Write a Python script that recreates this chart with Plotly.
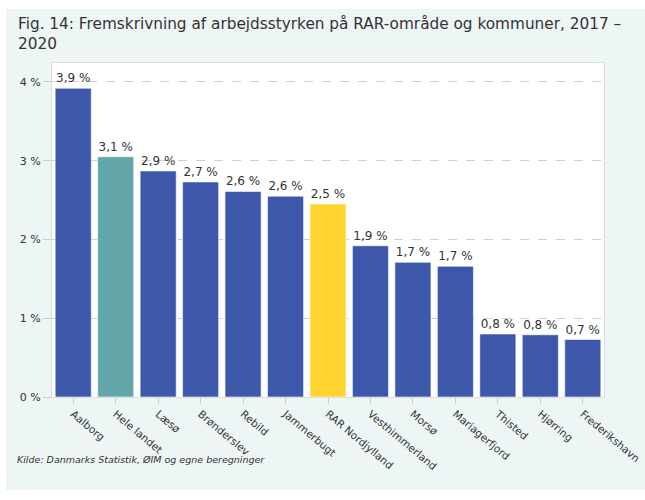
import plotly.graph_objects as go

categories = ["Aalborg", "Hele landet", "Læsø", "Brønderslev", "Rebild", "Jammerbugt",
              "RAR Nordjylland", "Vesthimmerland", "Morsø", "Mariagerfjord", "Thisted",
              "Hjørring", "Frederikshavn"]
values = [3.92, 3.05, 2.87, 2.73, 2.61, 2.55, 2.45, 1.92, 1.71, 1.66, 0.80, 0.79, 0.73]
value_labels = ["3,9 %", "3,1 %", "2,9 %", "2,7 %", "2,6 %", "2,6 %", "2,5 %",
                "1,9 %", "1,7 %", "1,7 %", "0,8 %", "0,8 %", "0,7 %"]
y_tickvals = [0, 1, 2, 3, 4]
y_ticktext = ["0 %", "1 %", "2 %", "3 %", "4 %"]
title_lines = ["Fig. 14: Fremskrivning af arbejdsstyrken på RAR-område og kommuner, 2017 –", "2020"]
source_text = "Kilde: Danmarks Statistik, ØIM og egne beregninger"

BLUE = "#3d58ab"
TEAL = "#63a6a9"
YELLOW = "#ffd42e"
colors = [TEAL if c == "Hele landet" else YELLOW if c == "RAR Nordjylland" else BLUE
          for c in categories]

FONT = "DejaVu Sans"
W, H = 645, 500
L, R, T, B = 52, 41, 63, 103
pw, ph = W - L - R, H - T - B

def px(x):
    return (x - L) / pw

def py(y):
    return (H - B - y) / ph

fig = go.Figure(go.Bar(
    x=categories, y=values, text=value_labels, textposition="outside",
    textfont=dict(size=12, color="#333333", family=FONT),
    marker=dict(color=colors, line=dict(color="#ffffff", width=0.6)),
    cliponaxis=False,
))

PANEL = "#eef5f5"
fig.update_layout(
    width=W, height=H,
    margin=dict(l=L, r=R, t=T, b=B),
    paper_bgcolor=PANEL,
    plot_bgcolor="#ffffff",
    bargap=0.15,
    showlegend=False,
    font=dict(family=FONT, color="#333333"),
    xaxis=dict(
        tickangle=40, tickfont=dict(size=10.5, color="#333333"),
        ticks="outside", ticklen=6, tickcolor="#cccccc",
        showline=True, linecolor="#dddddd", linewidth=1, mirror=True,
        showgrid=False, automargin=False,
    ),
    yaxis=dict(
        range=[0, 4.24], tickvals=y_tickvals, ticktext=y_ticktext,
        tickfont=dict(size=11, color="#333333"),
        ticks="outside", ticklen=8, tickcolor="#cccccc",
        showgrid=True, gridcolor="#cfcfcf", griddash="dash", gridwidth=1,
        showline=True, linecolor="#dddddd", linewidth=1, mirror=True,
        zeroline=False, automargin=False,
    ),
    shapes=[
        dict(type="rect", xref="paper", yref="paper", x0=px(-5), x1=px(W + 5),
             y0=py(9), y1=py(-5), fillcolor="#ffffff", line=dict(width=0)),
        dict(type="rect", xref="paper", yref="paper", x0=px(-5), x1=px(6),
             y0=py(H + 5), y1=py(-5), fillcolor="#ffffff", line=dict(width=0)),
        dict(type="rect", xref="paper", yref="paper", x0=px(-5), x1=px(W + 5),
             y0=py(H + 5), y1=py(490), fillcolor="#ffffff", line=dict(width=0)),
    ],
    annotations=[
        dict(text=title_lines[0], xref="paper", yref="paper", x=px(16), y=py(24),
             xanchor="left", yanchor="middle", showarrow=False, align="left",
             font=dict(size=15.3, color="#333333", family=FONT)),
        dict(text=title_lines[1], xref="paper", yref="paper", x=px(16), y=py(44),
             xanchor="left", yanchor="middle", showarrow=False, align="left",
             font=dict(size=15.3, color="#333333", family=FONT)),
        dict(text="<i>" + source_text + "</i>",
             xref="paper", yref="paper", x=px(15), y=py(459), xanchor="left", yanchor="middle",
             showarrow=False, align="left",
             font=dict(size=9.5, color="#333333", family=FONT)),
    ],
)

fig.write_html("out.html", config={"displayModeBar": False},
               post_script="document.body.style.margin='0';")
